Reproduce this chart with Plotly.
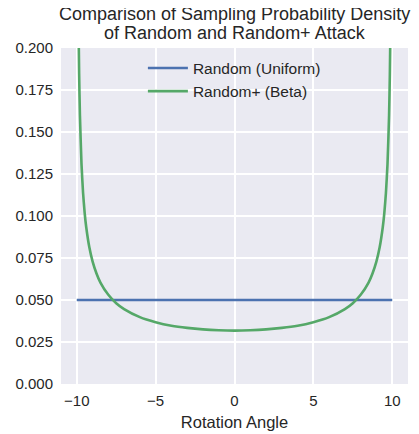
import plotly.graph_objects as go

# Data
uniform_x = [-10, 10]
uniform_y = [0.05, 0.05]

beta_x = [-9.975, -9.95, -9.9, -9.85, -9.8, -9.7, -9.6, -9.5, -9.4, -9.2, -9.0,
          -8.75, -8.5, -8.0, -7.5, -7.0, -6.0, -5.0, -4.0, -3.0, -2.0, -1.0, 0.0,
          1.0, 2.0, 3.0, 4.0, 5.0, 6.0, 7.0, 7.5, 8.0, 8.5, 8.75, 9.0, 9.2, 9.4,
          9.5, 9.6, 9.7, 9.8, 9.85, 9.9, 9.95, 9.975]
beta_y = [0.4504, 0.3187, 0.2256, 0.1845, 0.1600, 0.1309, 0.1137, 0.1019, 0.0933,
          0.0812, 0.0730, 0.0658, 0.0604, 0.0531, 0.0481, 0.0446, 0.0398, 0.0368,
          0.0347, 0.0334, 0.0325, 0.0320, 0.0318, 0.0320, 0.0325, 0.0334, 0.0347,
          0.0368, 0.0398, 0.0446, 0.0481, 0.0531, 0.0604, 0.0658, 0.0730, 0.0812,
          0.0933, 0.1019, 0.1137, 0.1309, 0.1600, 0.1845, 0.2256, 0.3187, 0.4504]

series_names = ["Random (Uniform)", "Random+ (Beta)"]
title_lines = ["Comparison of Sampling Probability Density", "of Random and Random+ Attack"]
x_title = "Rotation Angle"
x_ticks = [-10, -5, 0, 5, 10]
y_ticks = [0.0, 0.025, 0.05, 0.075, 0.1, 0.125, 0.15, 0.175, 0.2]

FONT = "Liberation Sans, Arial, sans-serif"
TXT = "#262626"

fig = go.Figure()
fig.add_trace(go.Scatter(x=uniform_x, y=uniform_y, mode="lines", name=series_names[0],
                         legendgroup="a",
                         line=dict(color="#4C72B0", width=2.6)))
fig.add_trace(go.Scatter(x=beta_x, y=beta_y, mode="lines", name=series_names[1],
                         legendgroup="b",
                         line=dict(color="#55A868", width=2.6, shape="spline", smoothing=0.6)))

annotations = [
    dict(text=title_lines[0], xref="paper", yref="paper", x=0.5, y=1, xanchor="center",
         yanchor="middle", yshift=34, showarrow=False, font=dict(size=18, color=TXT, family=FONT)),
    dict(text=title_lines[1], xref="paper", yref="paper", x=0.5, y=1, xanchor="center",
         yanchor="middle", yshift=15, showarrow=False, font=dict(size=18, color=TXT, family=FONT)),
]

fig.update_layout(
    width=411, height=426,
    margin=dict(l=53, r=11, t=40, b=50, autoexpand=False),
    paper_bgcolor="white",
    plot_bgcolor="#EAEAF2",
    font=dict(family=FONT, color=TXT, size=15),
    annotations=annotations,
    showlegend=True,
    legend=dict(x=0.236, y=0.99, xanchor="left", yanchor="top",
                bgcolor="rgba(0,0,0,0)", borderwidth=0,
                font=dict(size=15.5, color=TXT, family=FONT),
                itemwidth=40, tracegroupgap=0),
    xaxis=dict(range=[-11, 11], tickvals=x_ticks, showgrid=True, gridcolor="white",
               gridwidth=1.5, zeroline=False, showline=False, ticks="", ticklen=0,
               automargin=False, tickfont=dict(size=15), ticklabelstandoff=6,
               title=dict(text=x_title, font=dict(size=16.5), standoff=8)),
    yaxis=dict(range=[0, 0.2], tickvals=y_ticks, tickformat=".3f", showgrid=True,
               gridcolor="white", gridwidth=1.5, zeroline=False, showline=False,
               automargin=False, ticks="", ticklen=0, tickfont=dict(size=15),
               ticklabelstandoff=7),
)

fig.write_html("out.html")
